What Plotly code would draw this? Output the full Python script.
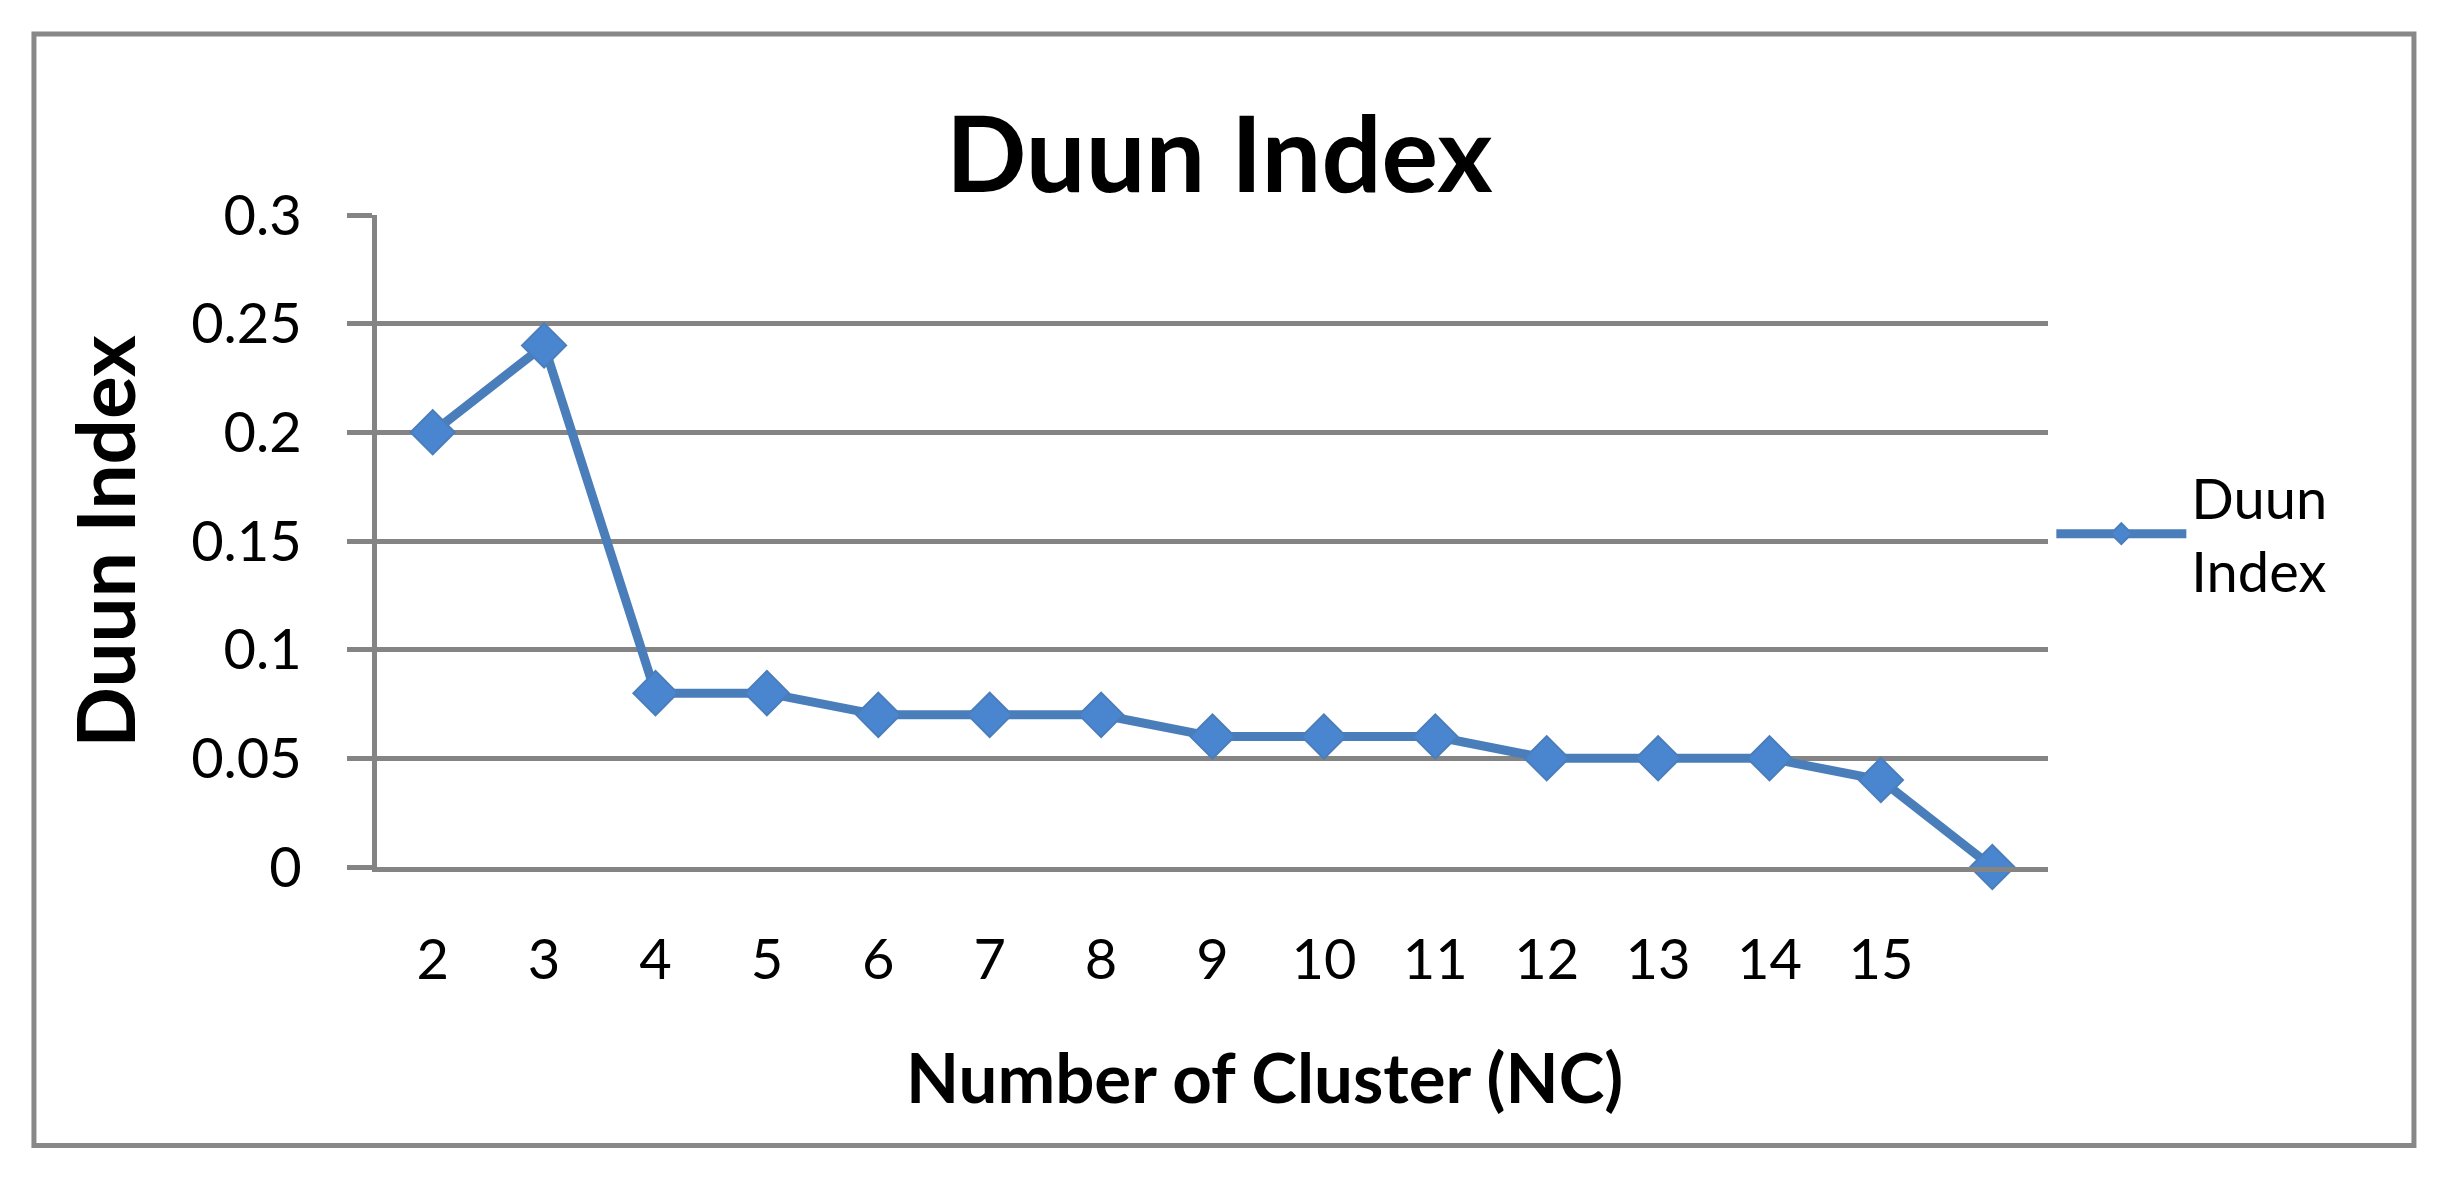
import plotly.graph_objects as go

# === Data ===
nc = [2, 3, 4, 5, 6, 7, 8, 9, 10, 11, 12, 13, 14, 15, 16]
nc_labels = ["2", "3", "4", "5", "6", "7", "8", "9", "10", "11", "12", "13", "14", "15", ""]
duun = [0.20, 0.24, 0.08, 0.08, 0.07, 0.07, 0.07, 0.06, 0.06, 0.06, 0.05, 0.05, 0.05, 0.04, 0.0]
y_ticks = [0, 0.05, 0.1, 0.15, 0.2, 0.25, 0.3]
y_tick_labels = ["0", "0.05", "0.1", "0.15", "0.2", "0.25", "0.3"]

FONT = "Lato"
GRID = "#848484"

# === Create Plot ===
fig = go.Figure()
fig.add_trace(go.Scatter(
    x=nc, y=duun,
    mode="lines+markers",
    name="Duun<br>Index",
    line=dict(color="#4A7EBB", width=9),
    marker=dict(symbol="diamond", size=34, color="#4A86D0",
                line=dict(color="#4A7EBB", width=2)),
    cliponaxis=False,
))

fig.update_layout(
    width=2444, height=1182, autosize=False,
    margin=dict(l=369, r=404, t=207, b=323),
    paper_bgcolor="white", plot_bgcolor="white",
    font=dict(family=FONT, color="black", size=56),
    showlegend=True,
    legend=dict(x=1.002, xanchor="left", y=0.511, yanchor="middle",
                font=dict(family=FONT, size=56, color="black"),
                bgcolor="rgba(0,0,0,0)", itemwidth=130),
)

fig.update_xaxes(
    range=[1.5, 16.5], tickvals=nc, ticktext=nc_labels,
    showgrid=False, zeroline=False,
    showline=True, linecolor=GRID, linewidth=5,
    ticks="", ticklabelstandoff=40,
    tickfont=dict(family=FONT, size=56, color="black"),
)
fig.update_yaxes(
    range=[0, 0.3], tickvals=y_ticks, ticktext=y_tick_labels,
    showgrid=True, gridcolor=GRID, gridwidth=5, zeroline=False,
    showline=True, linecolor=GRID, linewidth=5,
    ticks="outside", ticklen=25, tickwidth=5, tickcolor=GRID,
    ticklabelstandoff=34,
    tickfont=dict(family=FONT, size=56, color="black"),
)

# titles
fig.add_annotation(text="<b>Duun Index</b>", x=0.504, y=1.098, xref="paper", yref="paper",
                   xanchor="center", yanchor="middle", showarrow=False,
                   font=dict(family=FONT, size=106, color="black"))
fig.add_annotation(text="<b>Number of Cluster (NC)</b>", x=0.531, y=-0.321, xref="paper", yref="paper",
                   xanchor="center", yanchor="middle", showarrow=False,
                   font=dict(family=FONT, size=69, color="black"))
fig.add_annotation(text="<b>Duun Index</b>", x=-0.1635, y=0.5, xref="paper", yref="paper",
                   xanchor="center", yanchor="middle", showarrow=False, textangle=-90,
                   font=dict(family=FONT, size=80, color="black"))

# outer chart frame
fig.add_shape(type="rect", xref="paper", yref="paper",
              x0=-0.2053, x1=1.219, y0=-0.427, y1=1.2776,
              line=dict(color="#888888", width=5), fillcolor="rgba(0,0,0,0)")

fig.write_html("out.html")
